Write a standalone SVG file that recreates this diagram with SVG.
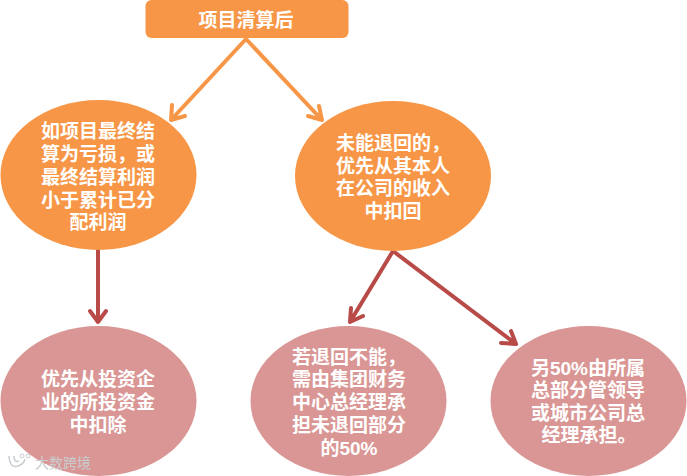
<svg xmlns="http://www.w3.org/2000/svg" width="687" height="476" viewBox="0 0 687 476">
<style>
text{font-family:"Liberation Sans","Noto Sans CJK SC",sans-serif;font-weight:700;font-size:19px;fill:#fff;text-anchor:middle}
.o{fill:#f79646}.p{fill:#d99694}
.c{fill:none;stroke-width:4;stroke-linecap:round;stroke-linejoin:round}
.co{stroke:#f79646}.cr{stroke:#b84a48}
.wm{font-size:14px;font-weight:400;fill:#c9cdd0;text-anchor:start}
</style>
<rect width="687" height="476" fill="#fff"/>
<g id="connectors">
<path class="c co" d="M246 39L171 120M172 105L171 120L185 116"/>
<path class="c co" d="M246 39L322 120M308 116L322 120L319 106"/>
<path class="c cr" d="M98 250V321M90 311L98 322L106 311"/>
<path class="c cr" d="M393 251L350 322M351 308L350 322L363 316"/>
<path class="c cr" d="M393 251L516 344M501 343L516 344L511 331"/>
</g>
<g id="n1"><rect class="o" x="145.500" y="0" width="203" height="38" rx="6"/><text x="246" y="27">项目清算后</text></g>
<g id="n2"><ellipse class="o" cx="98.500" cy="175" rx="98" ry="75"/>
<text><tspan x="98" y="138">如项目最终结</tspan><tspan x="98" y="161">算为亏损，或</tspan><tspan x="98" y="184">最终结算利润</tspan><tspan x="98" y="206.500">小于累计已分</tspan><tspan x="98" y="229">配利润</tspan></text></g>
<g id="n3"><ellipse class="o" cx="393" cy="176" rx="98" ry="75"/>
<text><tspan x="393" y="150">未能退回的，</tspan><tspan x="393" y="172.500">优先从其本人</tspan><tspan x="393" y="195">在公司的收入</tspan><tspan x="393" y="218">中扣回</tspan></text></g>
<g id="n4"><ellipse class="p" cx="98.500" cy="401" rx="98" ry="75"/>
<text><tspan x="98" y="386">优先从投资企</tspan><tspan x="98" y="409">业的所投资金</tspan><tspan x="98" y="432">中扣除</tspan></text></g>
<g id="n5"><ellipse class="p" cx="348.500" cy="401" rx="98" ry="75"/>
<text><tspan x="349" y="363.500">若退回不能，</tspan><tspan x="349" y="386">需由集团财务</tspan><tspan x="349" y="409">中心总经理承</tspan><tspan x="349" y="432">担未退回部分</tspan><tspan x="349" y="455">的50%</tspan></text></g>
<g id="n6"><ellipse class="p" cx="588.500" cy="401" rx="98" ry="75"/>
<text><tspan x="588" y="374.500">另50%由所属</tspan><tspan x="588" y="397">总部分管领导</tspan><tspan x="588" y="419.500">或城市公司总</tspan><tspan x="589" y="442">经理承担。</tspan></text></g>
<g id="watermark"><path d="M9 456Q10 469 18 466Q24 464 25 459M14 456Q14 463 19 461" fill="none" stroke="#c9cdd0" stroke-width="1.500"/><circle cx="22" cy="456" r="2" fill="none" stroke="#c9cdd0"/><circle cx="28" cy="456" r="2" fill="none" stroke="#c9cdd0"/><text class="wm" x="35" y="468">大数跨境</text></g>
</svg>
